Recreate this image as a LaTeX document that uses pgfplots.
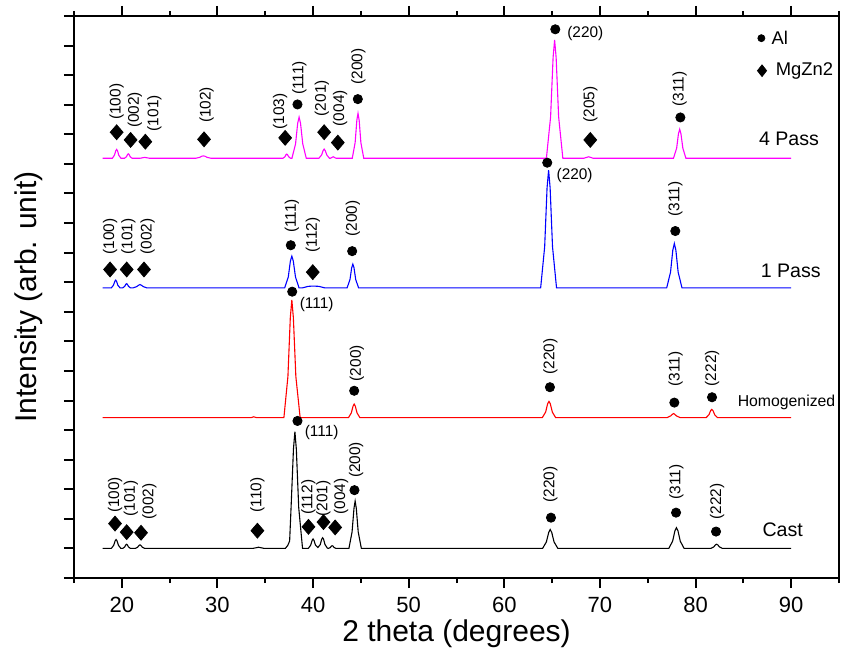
\documentclass[border=0pt]{standalone}
\usepackage{fontspec}
\setmainfont{Liberation Sans}
\usepackage{pgfplots}
\usepackage{pgfplotstable}
\pgfplotsset{compat=1.18}

\definecolor{mag}{RGB}{255,0,255}
\definecolor{blu}{RGB}{0,0,255}
\definecolor{rd}{RGB}{255,0,0}

% intensities above each pattern's own baseline
\pgfplotstableread{
x y
18 0
18.9 0
19.15 0.105
19.3 0.255
19.4 0.30
19.5 0.255
19.65 0.105
19.9 0
20.1 0
20.3 0.05
20.42 0.12
20.5 0.14
20.58 0.12
20.7 0.05
20.9 0
21.4 0
21.65 0.04
21.8 0.10
21.9 0.12
22.0 0.10
22.15 0.04
22.4 0
33.7 0
34.3 0.04
34.9 0
37.1 0
37.35 0.10
37.55 0.25
37.7 1.38
37.95 3.36
38.1 3.95
38.25 3.36
38.5 1.38
38.9 0
39.5 0
39.75 0.11
39.9 0.27
40.0 0.32
40.1 0.27
40.25 0.11
40.5 0.03
40.75 0.13
40.9 0.31
41.0 0.36
41.1 0.31
41.25 0.13
41.5 0.01
41.6 0
41.8 0.03
41.92 0.08
42.0 0.09
42.08 0.08
42.2 0.03
42.4 0
43.75 0
44.08 0.56
44.28 1.36
44.4 1.6
44.52 1.36
44.72 0.56
45.05 0
64.0 0
64.4 0.22
64.64 0.54
64.8 0.64
64.96 0.54
65.2 0.22
65.6 0
77.2 0
77.6 0.245
77.84 0.595
78.0 0.70
78.16 0.595
78.4 0.245
78.8 0
81.6 0
81.9 0.05
82.08 0.12
82.2 0.14
82.32 0.12
82.5 0.05
82.8 0
90 0
}\cast

\pgfplotstableread{
x y
18 0
33.5 0
33.8 0.03
34.1 0
36.95 0
37.37 1.39
37.62 3.38
37.78 3.98
37.94 3.38
38.2 1.39
38.65 0
43.7 0
44.0 0.16
44.18 0.39
44.3 0.46
44.42 0.39
44.6 0.16
44.9 0
63.97 0
64.32 0.19
64.53 0.47
64.67 0.55
64.81 0.47
65.02 0.19
65.37 0
77.0 0
77.4 0.06
77.6 0.12
77.7 0.14
77.8 0.12
78.0 0.06
78.4 0
81.1 0
81.4 0.10
81.58 0.24
81.7 0.28
81.82 0.24
82.0 0.10
82.3 0
90 0
}\homog

\pgfplotstableread{
x y
18 0
18.91 0
19.13 0.09
19.27 0.22
19.36 0.26
19.45 0.22
19.58 0.09
19.81 0
20.1 0
20.3 0.05
20.42 0.12
20.5 0.14
20.58 0.12
20.7 0.05
20.9 0
21.2 0
21.55 0.04
21.76 0.09
21.9 0.11
22.04 0.09
22.25 0.04
22.6 0
37.03 0
37.41 0.37
37.63 0.91
37.78 1.07
37.93 0.91
38.16 0.37
38.53 0
38.9 0
39.5 0.05
40.0 0.06
40.6 0.05
41.2 0
43.56 0
43.86 0.28
44.04 0.68
44.16 0.80
44.28 0.68
44.46 0.28
44.76 0
63.8 0
64.22 1.39
64.47 3.38
64.63 3.98
64.79 3.38
65.04 1.39
65.46 0
76.98 0
77.38 0.525
77.62 1.275
77.78 1.50
77.94 1.275
78.18 0.525
78.58 0
90 0
}\onepass

\pgfplotstableread{
x y
18 0
19.01 0
19.23 0.105
19.37 0.255
19.46 0.30
19.55 0.255
19.68 0.105
19.91 0
20.28 0
20.48 0.05
20.6 0.13
20.68 0.15
20.76 0.13
20.88 0.05
21.08 0
21.9 0
22.4 0.03
22.9 0
27.73 0
28.13 0.03
28.37 0.07
28.53 0.08
28.69 0.07
28.93 0.03
29.33 0
36.85 0
37.05 0.05
37.17 0.12
37.25 0.14
37.33 0.12
37.45 0.05
37.65 0
37.79 0
38.17 0.49
38.39 1.18
38.54 1.39
38.69 1.18
38.92 0.49
39.29 0
40.61 0
40.89 0.11
41.05 0.26
41.16 0.31
41.27 0.26
41.44 0.11
41.71 0
41.8 0
42.1 0.05
42.4 0
44.1 0
44.4 0.53
44.58 1.29
44.7 1.52
44.82 1.29
45.0 0.53
45.3 0
64.4 0
64.84 1.40
65.1 3.40
65.26 4.00
65.42 3.40
65.68 1.40
66.12 0
68.3 0
68.82 0.05
69.3 0
77.69 0
78.02 0.34
78.21 0.83
78.34 0.98
78.47 0.83
78.67 0.34
78.99 0
90 0
}\fourpass

\newcommand{\lbl}{\fontsize{7.7}{8}\selectfont}
\newcommand{\lab}[3]{\node[rotate=90,anchor=west,inner sep=0pt,font=\lbl] at (axis cs:#1,#2) {#3};}
\newcommand{\hlab}[3]{\node[anchor=west,inner sep=0pt,font=\lbl] at (axis cs:#1,#2) {#3};}

\begin{document}
\begin{tikzpicture}
\begin{axis}[
  scale only axis, width=382.5pt, height=281pt,
  xmin=15, xmax=95, ymin=0, ymax=19,
  xtick={20,30,...,90}, minor xtick={15,25,...,95},
  ytick={0,1,...,19}, yticklabels={},
  xtick pos=both, xticklabel pos=lower, ytick pos=left,
  tick align=outside, major tick length=5pt, minor tick length=2.5pt,
  axis line style={line width=1.1pt},
  every tick/.style={line width=1pt, black},
  tick label style={font=\fontsize{11}{13}\selectfont},
  xticklabel style={yshift=-1pt},
  /pgf/number format/assume math mode=true,
  xlabel={2 theta (degrees)}, ylabel={Intensity (arb. unit)},
  label style={font=\fontsize{15}{18}\selectfont},
  xlabel style={at={(axis description cs:0.5,-0.1)}, anchor=center},
  ylabel style={at={(axis description cs:-0.059,0.5)}, anchor=center},
  clip=false,
]
\addplot[black, line width=0.55pt] table[y expr=\thisrow{y}+1.0] {\cast};
\addplot[rd, line width=0.55pt] table[y expr=\thisrow{y}+5.42] {\homog};
\addplot[blu, line width=0.55pt] table[y expr=\thisrow{y}+9.81] {\onepass};
\addplot[mag, line width=0.55pt] table[y expr=\thisrow{y}+14.19] {\fourpass};

% Al peaks
\addplot[only marks, mark=*, mark size=2.3pt, black] coordinates {
 (38.37,5.31) (44.33,2.97) (64.88,2.04) (77.96,2.21) (82.14,1.57)
 (37.82,9.68) (44.3,6.33) (64.77,6.45) (77.78,5.93) (81.72,6.11)
 (37.67,11.25) (44.09,11.05) (64.49,14.04) (77.88,11.73)
 (38.37,16.01) (44.68,16.19) (65.33,18.55) (78.41,15.57)};
% MgZn2 peaks
\addplot[only marks, mark=diamond*, mark size=3.7pt, black, mark options={xscale=1.15}] coordinates {
 (19.29,1.84) (20.51,1.55) (22.01,1.53) (34.18,1.6) (39.52,1.73) (41.09,1.89) (42.31,1.71)
 (18.77,10.43) (20.51,10.43) (22.32,10.43) (39.97,10.34)
 (19.46,15.07) (20.92,14.81) (22.46,14.75) (28.6,14.83) (37.08,14.88) (41.16,15.07) (42.59,14.72) (68.99,14.81)};
% key
\addplot[only marks, mark=*, mark size=1.75pt, black] coordinates {(86.88,18.25)};
\addplot[only marks, mark=diamond*, mark size=2.9pt, black, mark options={xscale=1.05}] coordinates {(86.95,17.15)};
\node[anchor=west, inner sep=0pt, font=\fontsize{9.2}{11}\selectfont] at (axis cs:87.9,18.25) {Al};
\node[anchor=west, inner sep=0pt, font=\fontsize{9.2}{11}\selectfont] at (axis cs:88.35,17.15) {MgZn2};

% pattern names
\node[anchor=west, inner sep=0pt, font=\fontsize{9.8}{12}\selectfont] at (axis cs:86.6,14.86) {4 Pass};
\node[anchor=west, inner sep=0pt, font=\fontsize{9.8}{12}\selectfont] at (axis cs:86.78,10.38) {1 Pass};
\node[anchor=west, inner sep=0pt, font=\fontsize{7.9}{10}\selectfont] at (axis cs:84.37,5.93) {Homogenized};
\node[anchor=west, inner sep=0pt, font=\fontsize{9.8}{12}\selectfont] at (axis cs:86.96,1.62) {Cast};

% Cast
\lab{19.29}{2.19}{(100)}
\lab{20.96}{2.07}{(101)}
\lab{22.88}{1.96}{(002)}
\lab{34.18}{2.20}{(110)}
\lab{39.52}{2.13}{(112)}
\lab{41.09}{2.07}{(201)}
\lab{42.94}{2.13}{(004)}
\lab{44.51}{3.37}{(200)}
\lab{64.81}{2.54}{(220)}
\lab{77.99}{2.64}{(311)}
\lab{82.25}{1.96}{(222)}
\hlab{39.1}{4.91}{(111)}
% Homogenized
\hlab{38.57}{9.23}{(111)}
\lab{44.58}{6.64}{(200)}
\lab{64.81}{6.86}{(220)}
\lab{77.92}{6.47}{(311)}
\lab{81.72}{6.47}{(222)}
% 1 Pass
\lab{18.77}{10.92}{(100)}
\lab{20.68}{10.92}{(101)}
\lab{22.71}{10.92}{(002)}
\lab{37.78}{11.66}{(111)}
\lab{39.98}{10.99}{(112)}
\lab{44.16}{11.54}{(200)}
\lab{77.89}{12.21}{(311)}
\hlab{65.43}{13.62}{(220)}
% 4 Pass
\lab{19.47}{15.48}{(100)}
\lab{21.38}{15.20}{(002)}
\lab{23.40}{15.09}{(101)}
\lab{28.88}{15.37}{(102)}
\lab{36.55}{15.15}{(103)}
\lab{38.57}{16.33}{(111)}
\lab{40.92}{15.60}{(201)}
\lab{42.83}{15.26}{(004)}
\lab{44.75}{16.67}{(200)}
\lab{68.99}{15.38}{(205)}
\lab{78.34}{15.93}{(311)}
\hlab{66.55}{18.41}{(220)}
\end{axis}
\pgfresetboundingbox
\path[use as bounding box] ([shift={(-37pt,-42.5pt)}]current axis.south west) rectangle ([shift={(4pt,8pt)}]current axis.north east);
\end{tikzpicture}
\end{document}
